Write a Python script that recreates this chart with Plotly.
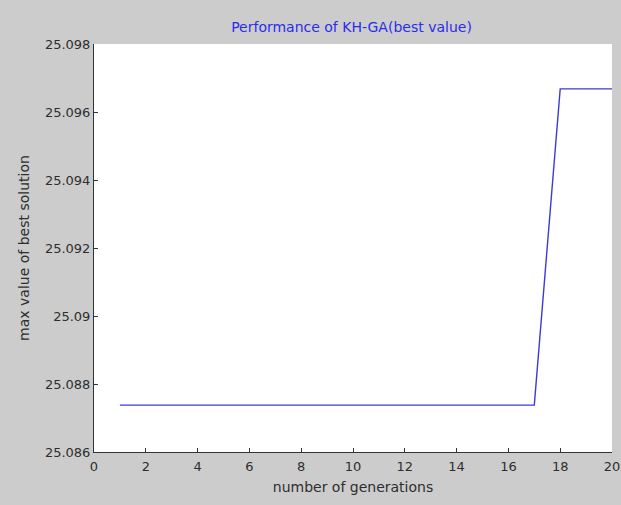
import plotly.graph_objects as go

generations = list(range(1, 21))
best_values = [25.08738] * 17 + [25.09668] * 3

x_ticks = [0, 2, 4, 6, 8, 10, 12, 14, 16, 18, 20]
y_ticks = [25.086, 25.088, 25.090, 25.092, 25.094, 25.096, 25.098]
y_ticklabels = ["25.086", "25.088", "25.09", "25.092", "25.094", "25.096", "25.098"]

FAM = "DejaVu Sans, Liberation Sans, Arial, sans-serif"

fig = go.Figure()
fig.add_trace(go.Scatter(
    x=generations, y=best_values, mode="lines",
    line=dict(color="#3a3ad6", width=1.4),
    showlegend=False, hoverinfo="skip",
))

fig.update_layout(
    width=621, height=505,
    margin=dict(l=94, r=9, t=44, b=53),
    paper_bgcolor="#cccccc",
    plot_bgcolor="#ffffff",
    font=dict(family=FAM, size=13, color="#2e2e2e"),
    title=dict(
        text="Performance of KH-GA(best value)",
        x=351.5 / 621, xanchor="center",
        y=1 - 27 / 505, yanchor="middle",
        font=dict(family=FAM, size=14, color="#2b2bf0"),
    ),
)
fig.update_xaxes(
    range=[0, 20], tickvals=x_ticks, ticktext=[str(v) for v in x_ticks],
    ticks="inside", ticklen=4, tickcolor="#333333",
    tickfont=dict(family=FAM, size=13, color="#2e2e2e"),
    ticklabelstandoff=2,
    showline=True, linecolor="#333333", linewidth=1, mirror=False,
    showgrid=False, zeroline=False, automargin=False,
    title=dict(text="number of generations", standoff=9,
               font=dict(family=FAM, size=14, color="#2e2e2e")),
)
fig.update_yaxes(
    range=[25.086, 25.098], tickvals=y_ticks, ticktext=y_ticklabels,
    ticks="inside", ticklen=4, tickcolor="#333333",
    tickfont=dict(family=FAM, size=13, color="#2e2e2e"),
    showline=True, linecolor="#333333", linewidth=1, mirror=False,
    showgrid=False, zeroline=False, automargin=False,
    title=dict(text="max value of best solution", standoff=12,
               font=dict(family=FAM, size=14, color="#2e2e2e")),
)

fig.write_html("out.html")
